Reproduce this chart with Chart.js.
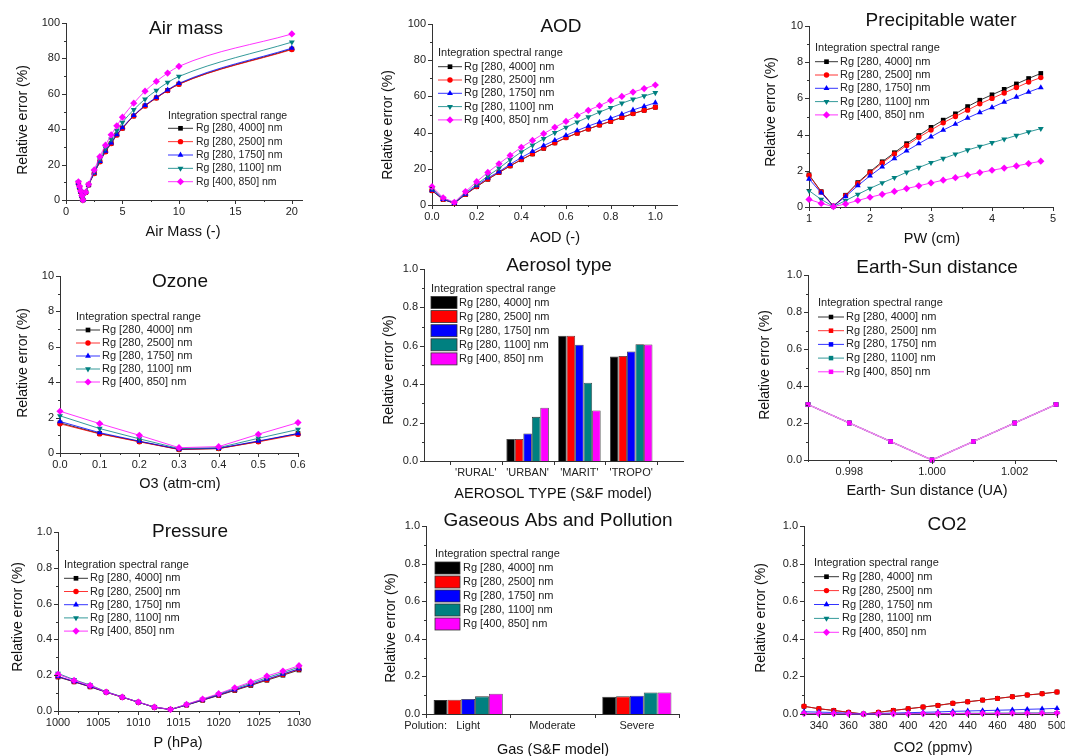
<!DOCTYPE html>
<html>
<head>
<meta charset="utf-8">
<script src="https://cdn.jsdelivr.net/npm/chart.js@4/dist/chart.umd.min.js"></script>
<style>
  html, body { margin: 0; padding: 0; background: #fff; }
  body { width: 1065px; height: 756px; position: relative; overflow: hidden; }
  canvas { position: absolute; }
</style>
</head>
<body>
<script>
// Series (integration spectral ranges)
const seriesNames = ['Rg [280, 4000] nm', 'Rg [280, 2500] nm', 'Rg [280, 1750] nm', 'Rg [280, 1100] nm', 'Rg [400, 850] nm'];

// Air mass
const airMassX = [1.1, 1.2, 1.3, 1.4, 1.5, 1.75, 2, 2.5, 3, 3.5, 4, 4.5, 5, 6, 7, 8, 9, 10, 20];
const airMassErr = [
  [9.5, 7.1, 4.7, 2.3, 0, 4.3, 8.5, 15.1, 21.7, 27.4, 32.0, 36.8, 40.6, 47.5, 53.2, 57.7, 61.9, 65.5, 85.3],
  [9.4, 7.0, 4.6, 2.3, 0, 4.3, 8.5, 15.0, 21.6, 27.3, 31.9, 36.7, 40.5, 47.4, 53.1, 57.6, 61.8, 65.4, 85.0],
  [9.6, 7.2, 4.8, 2.4, 0, 4.3, 8.6, 15.3, 21.9, 27.6, 32.3, 37.0, 40.9, 47.8, 53.5, 58.0, 62.2, 65.9, 85.8],
  [10.0, 7.5, 5.0, 2.5, 0, 4.4, 8.6, 16.0, 23.0, 29.2, 34.3, 39.2, 43.8, 51.0, 57.0, 61.9, 66.4, 69.8, 89.2],
  [10.3, 7.7, 5.1, 2.6, 0, 4.4, 8.9, 17.0, 24.5, 31.0, 36.8, 41.9, 46.8, 54.7, 61.5, 67.0, 71.7, 75.5, 93.8]
];

// AOD
const aodX = [0, 0.05, 0.1, 0.15, 0.2, 0.25, 0.3, 0.35, 0.4, 0.45, 0.5, 0.55, 0.6, 0.65, 0.7, 0.75, 0.8, 0.85, 0.9, 0.95, 1.0];
const aodErr = [
  [7.9, 3.0, 1.0, 5.8, 10.1, 14.2, 17.9, 21.6, 25.0, 28.2, 31.3, 34.3, 37.2, 39.7, 42.0, 44.2, 46.2, 48.3, 50.5, 52.3, 54.0],
  [8.0, 3.1, 1.0, 5.9, 10.2, 14.3, 18.0, 21.7, 25.1, 28.3, 31.4, 34.4, 37.2, 39.7, 42.0, 44.2, 46.3, 48.4, 50.5, 52.3, 54.0],
  [8.3, 3.2, 1.0, 6.1, 10.7, 15.0, 18.4, 22.5, 26.2, 29.6, 32.8, 35.7, 38.5, 41.1, 43.6, 45.8, 47.9, 50.2, 52.5, 54.5, 56.5],
  [9.2, 3.6, 1.2, 6.8, 11.4, 16.0, 20.3, 25.0, 29.3, 33.0, 36.6, 39.9, 42.9, 45.8, 48.6, 51.3, 53.8, 56.2, 58.4, 60.2, 62.0],
  [10.1, 4.0, 1.5, 7.4, 12.9, 18.0, 22.8, 27.4, 31.9, 35.7, 39.4, 42.9, 46.2, 49.4, 52.3, 54.9, 57.8, 60.0, 62.4, 64.3, 66.3]
];

// Precipitable water
const pwX = [1.0, 1.2, 1.4, 1.6, 1.8, 2.0, 2.2, 2.4, 2.6, 2.8, 3.0, 3.2, 3.4, 3.6, 3.8, 4.0, 4.2, 4.4, 4.6, 4.8];
const pwErr = [
  [1.78, 0.85, 0.05, 0.65, 1.35, 1.95, 2.50, 3.00, 3.50, 3.95, 4.40, 4.80, 5.15, 5.55, 5.90, 6.20, 6.50, 6.80, 7.10, 7.38],
  [1.75, 0.83, 0.05, 0.63, 1.30, 1.90, 2.43, 2.93, 3.40, 3.85, 4.25, 4.65, 5.00, 5.35, 5.70, 6.00, 6.30, 6.60, 6.90, 7.15],
  [1.55, 0.78, 0.05, 0.58, 1.18, 1.72, 2.22, 2.68, 3.10, 3.50, 3.88, 4.25, 4.58, 4.92, 5.22, 5.50, 5.80, 6.08, 6.35, 6.60],
  [0.90, 0.42, 0.03, 0.35, 0.70, 1.03, 1.33, 1.62, 1.92, 2.18, 2.45, 2.68, 2.92, 3.15, 3.35, 3.55, 3.75, 3.95, 4.15, 4.33],
  [0.42, 0.20, 0.02, 0.17, 0.36, 0.54, 0.70, 0.86, 1.02, 1.17, 1.33, 1.48, 1.62, 1.76, 1.90, 2.03, 2.15, 2.27, 2.40, 2.53]
];

// Ozone
const ozoneX = [0, 0.1, 0.2, 0.3, 0.4, 0.5, 0.6];
const ozoneErr = [
  [1.70, 1.10, 0.65, 0.20, 0.25, 0.65, 1.10],
  [1.65, 1.08, 0.63, 0.20, 0.25, 0.63, 1.05],
  [1.78, 1.15, 0.67, 0.22, 0.27, 0.68, 1.10],
  [2.10, 1.38, 0.80, 0.25, 0.30, 0.83, 1.33],
  [2.36, 1.66, 1.00, 0.30, 0.36, 1.06, 1.72]
];

// Aerosol type (S&F model)
const aerosolTypes = ["'RURAL'", "'URBAN'", "'MARIT'", "'TROPO'"];
const aerosolErr = [
  [null, 0.115, 0.652, 0.544],
  [null, 0.115, 0.652, 0.547],
  [null, 0.143, 0.606, 0.570],
  [null, 0.230, 0.408, 0.608],
  [null, 0.277, 0.263, 0.607]
];

// Earth-Sun distance
const esX = [0.997, 0.998, 0.999, 1.000, 1.001, 1.002, 1.003];
const esErr = [
  [0.3, 0.2, 0.1, 0, 0.1, 0.2, 0.3],
  [0.3, 0.2, 0.1, 0, 0.1, 0.2, 0.3],
  [0.3, 0.2, 0.1, 0, 0.1, 0.2, 0.3],
  [0.3, 0.2, 0.1, 0, 0.1, 0.2, 0.3],
  [0.3, 0.2, 0.1, 0, 0.1, 0.2, 0.3]
];

// Pressure
const pressureX = [1000, 1002, 1004, 1006, 1008, 1010, 1012, 1014, 1016, 1018, 1020, 1022, 1024, 1026, 1028, 1030];
const pressureErr = [
  [0.190, 0.163, 0.135, 0.105, 0.077, 0.049, 0.021, 0.008, 0.033, 0.060, 0.087, 0.115, 0.143, 0.172, 0.200, 0.229],
  [0.192, 0.164, 0.136, 0.106, 0.077, 0.049, 0.021, 0.008, 0.034, 0.061, 0.089, 0.117, 0.146, 0.175, 0.204, 0.233],
  [0.193, 0.165, 0.137, 0.106, 0.078, 0.049, 0.021, 0.008, 0.034, 0.062, 0.090, 0.119, 0.148, 0.178, 0.207, 0.236],
  [0.210, 0.175, 0.145, 0.108, 0.079, 0.050, 0.022, 0.009, 0.036, 0.065, 0.094, 0.125, 0.155, 0.186, 0.215, 0.245],
  [0.205, 0.171, 0.143, 0.106, 0.078, 0.050, 0.022, 0.009, 0.037, 0.067, 0.097, 0.130, 0.162, 0.195, 0.223, 0.253]
];

// Gaseous absorption and pollution
const pollutionLevels = ['Light', 'Moderate', 'Severe'];
const pollutionErr = [
  [0.074, null, 0.092],
  [0.076, null, 0.094],
  [0.080, null, 0.097],
  [0.094, null, 0.115],
  [0.108, null, 0.115]
];

// CO2
const co2X = [330, 340, 350, 360, 370, 380, 390, 400, 410, 420, 430, 440, 450, 460, 470, 480, 490, 500];
const co2Err = [
  [0.041, 0.028, 0.019, 0.009, 0, 0.009, 0.019, 0.028, 0.037, 0.046, 0.057, 0.065, 0.074, 0.083, 0.092, 0.101, 0.108, 0.117],
  [0.041, 0.028, 0.019, 0.009, 0, 0.009, 0.019, 0.028, 0.037, 0.046, 0.057, 0.065, 0.074, 0.083, 0.092, 0.101, 0.108, 0.117],
  [0.012, 0.010, 0.008, 0.004, 0, 0.003, 0.005, 0.007, 0.009, 0.011, 0.014, 0.016, 0.018, 0.020, 0.022, 0.025, 0.027, 0.030],
  [0.004, 0.003, 0.002, 0.001, 0, 0.001, 0.001, 0.002, 0.002, 0.003, 0.003, 0.004, 0.004, 0.005, 0.005, 0.006, 0.006, 0.007],
  [0.003, 0.002, 0.002, 0.001, 0, 0.001, 0.001, 0.001, 0.002, 0.002, 0.002, 0.003, 0.003, 0.003, 0.004, 0.004, 0.004, 0.005]
];

// Tick values
const airMassXTicks = [0, 5, 10, 15, 20];
const aodXTicks = [0, 0.2, 0.4, 0.6, 0.8, 1.0];
const pwXTicks = [1, 2, 3, 4, 5];
const ozoneXTicks = [0, 0.1, 0.2, 0.3, 0.4, 0.5, 0.6];
const esXTicks = [0.998, 1.000, 1.002];
const pressureXTicks = [1000, 1005, 1010, 1015, 1020, 1025, 1030];
const co2XTicks = [340, 360, 380, 400, 420, 440, 460, 480, 500];
const errTicks100 = [0, 20, 40, 60, 80, 100];
const errTicks10 = [0, 2, 4, 6, 8, 10];
const errTicks1 = [0, 0.2, 0.4, 0.6, 0.8, 1.0];

// ---- estilos ----
const FONT = 'Arial, "Liberation Sans", sans-serif';
const INK = '#222';
const AXIS = '#333';
const seriesColors = ['#000000', '#ff0000', '#0000ff', '#008080', '#ff00ff'];
const markerStyles = ['rect', 'circle', 'triangle', 'triangle', 'rectRot'];
const markerRotation = [0, 0, 0, 180, 0];
const markerRadius = [3.3, 2.7, 3.4, 3.4, 3.6];
const PAD = { left: 70, top: 30, right: 25, bottom: 50 };

function minorsOf(major, lo, hi) {
  const out = [];
  if (major.length < 2) return out;
  const step = major[1] - major[0], eps = step * 1e-6;
  for (let v = major[0] - step / 2; v <= hi + eps; v += step) {
    if (v >= lo - eps) out.push(v);
  }
  return out;
}

function drawMarker(ctx, style, rot, x, y, r) {
  ctx.beginPath();
  if (style === 'circle') {
    ctx.arc(x, y, r, 0, Math.PI * 2);
  } else if (style === 'rect') {
    const s = r * Math.SQRT1_2;
    ctx.rect(x - s, y - s, 2 * s, 2 * s);
  } else if (style === 'rectRot') {
    ctx.moveTo(x, y - r); ctx.lineTo(x + r, y); ctx.lineTo(x, y + r); ctx.lineTo(x - r, y);
    ctx.closePath();
  } else {
    let a = rot * Math.PI / 180;
    for (let k = 0; k < 3; k++) {
      const px = x + Math.sin(a) * r, py = y - Math.cos(a) * r;
      if (k) ctx.lineTo(px, py); else ctx.moveTo(px, py);
      a += 2 * Math.PI / 3;
    }
    ctx.closePath();
  }
  ctx.fill();
}

// Plugin: ticks, títulos y leyenda (coordenadas de página)
function decor(p) {
  return {
    id: 'decor',
    afterDraw(chart) {
      const { ctx, chartArea: a, scales } = chart;
      const X = v => v - p.box.L + a.left;
      const Y = v => v - p.box.T + a.top;
      const xs = scales.x, ys = scales.y;
      ctx.save();

      // marcas de los ejes
      const xMaj = p.xTickAt || xs.ticks.map(t => t.value);
      const xMin = p.xTickAt ? [] : minorsOf(xMaj, xs.min, xs.max);
      const yMaj = ys.ticks.map(t => t.value);
      const yMin = minorsOf(yMaj, ys.min, ys.max);
      ctx.strokeStyle = AXIS; ctx.lineWidth = 1;
      ctx.beginPath();
      const tickX = (v, len) => { const x = Math.round(xs.getPixelForValue(v)) + 0.5; ctx.moveTo(x, a.bottom); ctx.lineTo(x, a.bottom + len); };
      const tickY = (v, len) => { const y = Math.round(ys.getPixelForValue(v)) + 0.5; ctx.moveTo(a.left, y); ctx.lineTo(a.left - len, y); };
      xMaj.forEach(v => tickX(v, 4)); xMin.forEach(v => tickX(v, 2));
      yMaj.forEach(v => tickY(v, 4)); yMin.forEach(v => tickY(v, 2));
      ctx.stroke();

      // títulos
      ctx.fillStyle = '#111';
      ctx.textAlign = 'center'; ctx.textBaseline = 'alphabetic';
      ctx.font = `19px ${FONT}`;
      ctx.fillText(p.title.text, X(p.title.x), Y(p.title.y));
      ctx.font = `14.5px ${FONT}`;
      ctx.fillText(p.xTitle.text, X(p.xTitle.x), Y(p.xTitle.y));
      ctx.save();
      ctx.translate(X(p.yTitle.x), Y(p.yTitle.y));
      ctx.rotate(-Math.PI / 2);
      ctx.textBaseline = 'middle';
      ctx.font = `14px ${FONT}`;
      ctx.fillText('Relative error (%)', 0, 0);
      ctx.restore();

      (p.extra || []).forEach(t => {
        ctx.font = `11px ${FONT}`; ctx.fillStyle = INK;
        ctx.textAlign = t.align; ctx.textBaseline = 'middle';
        ctx.fillText(t.text, X(t.x), Y(t.y));
      });

      // leyenda
      const lg = p.legend;
      ctx.textAlign = 'left'; ctx.textBaseline = 'middle';
      ctx.font = `${lg.size}px ${FONT}`; ctx.fillStyle = INK;
      ctx.fillText('Integration spectral range', X(lg.x), Y(lg.head));
      seriesNames.forEach((name, i) => {
        const y = Y(lg.row0 + i * lg.step), x0 = X(lg.x);
        if (p.bars) {
          ctx.fillStyle = seriesColors[i];
          ctx.fillRect(x0, y - 6, lg.len, 12);
          ctx.strokeStyle = AXIS; ctx.lineWidth = 0.8;
          ctx.strokeRect(x0, y - 6, lg.len, 12);
        } else {
          ctx.strokeStyle = seriesColors[i]; ctx.lineWidth = 0.8;
          ctx.beginPath(); ctx.moveTo(x0, y); ctx.lineTo(x0 + lg.len, y); ctx.stroke();
          ctx.fillStyle = seriesColors[i];
          if (p.allRect) drawMarker(ctx, 'rect', 0, x0 + lg.len / 2, y, 3.2);
          else drawMarker(ctx, markerStyles[i], markerRotation[i], x0 + lg.len / 2, y, markerRadius[i]);
        }
        ctx.fillStyle = INK;
        ctx.fillText(name, X(lg.textX), y);
      });
      ctx.restore();
    }
  };
}

function scaleOpts(s, isX) {
  const o = {
    type: s.type || 'linear',
    offset: !!s.offset,
    grid: { display: false, drawTicks: false },
    border: { display: true, color: AXIS, width: 1 },
    ticks: { padding: isX ? 5 : 6, color: INK, font: { family: FONT, size: 11 }, autoSkip: false, maxRotation: 0, minRotation: 0 },
    afterFit: isX ? (sc => { sc.height = PAD.bottom; }) : (sc => { sc.width = PAD.left; })
  };
  if (s.min !== undefined) o.min = s.min;
  if (s.max !== undefined) o.max = s.max;
  if (s.ticks) o.afterBuildTicks = sc => { sc.ticks = s.ticks.map(v => ({ value: v })); };
  if (s.dec !== undefined) o.ticks.callback = v => Number(v).toFixed(s.dec);
  return o;
}

function makeCanvas(box) {
  const c = document.createElement('canvas');
  c.width = box.R - box.L + PAD.left + PAD.right;
  c.height = box.B - box.T + PAD.top + PAD.bottom;
  c.style.left = (box.L - PAD.left) + 'px';
  c.style.top = (box.T - PAD.top) + 'px';
  document.body.appendChild(c);
  return c;
}

function baseOptions(p) {
  return {
    responsive: false,
    animation: false,
    devicePixelRatio: 1,
    layout: { padding: { left: 0, top: PAD.top, right: PAD.right, bottom: 0 } },
    plugins: { legend: { display: false }, tooltip: { enabled: false }, title: { display: false } },
    scales: { x: scaleOpts(p.x, true), y: scaleOpts(p.y, false) }
  };
}

function linePanel(p) {
  const last = p.ys.length - 1;
  const datasets = p.ys.map((vals, i) => ({
    label: seriesNames[i],
    data: p.xs.map((x, k) => ({ x, y: vals[k] })),
    showLine: true,
    // en Earth-Sun todas las curvas coinciden: la de arriba se ve rosa claro
    borderColor: (p.allRect && i === last) ? '#f08cf0' : seriesColors[i],
    backgroundColor: seriesColors[i],
    borderWidth: (p.allRect && i === last) ? 1.6 : 0.8,
    pointStyle: p.allRect ? 'rect' : markerStyles[i],
    pointRotation: p.allRect ? 0 : markerRotation[i],
    pointRadius: p.allRect ? 3.2 : markerRadius[i],
    pointBorderWidth: 0,
    cubicInterpolationMode: p.smooth ? 'monotone' : 'default',
    order: last - i,
    clip: false
  }));
  return new Chart(makeCanvas(p.box), {
    type: 'scatter',
    data: { datasets },
    options: baseOptions(p),
    plugins: [decor(p)]
  });
}

function barPanel(p) {
  const datasets = p.ys.map((vals, i) => ({
    label: seriesNames[i],
    data: p.padEnds ? [null, ...vals, null] : vals,
    backgroundColor: seriesColors[i],
    borderColor: AXIS,
    borderWidth: 0.8,
    categoryPercentage: 0.82,
    barPercentage: 1.0
  }));
  return new Chart(makeCanvas(p.box), {
    type: 'bar',
    data: { labels: p.padEnds ? ['', ...p.labels, ''] : p.labels, datasets },
    options: baseOptions(p),
    plugins: [decor(p)]
  });
}

// ---- paneles ----
linePanel({
  box: { L: 66, T: 23, R: 302, B: 200 }, xs: airMassX, ys: airMassErr, smooth: true,
  x: { min: 0, max: 20.9, ticks: airMassXTicks, dec: 0 }, y: { min: 0, max: 100, ticks: errTicks100, dec: 0 },
  title: { text: 'Air mass', x: 186, y: 34 }, xTitle: { text: 'Air Mass (-)', x: 183, y: 236 }, yTitle: { x: 23, y: 120 },
  legend: { x: 168, head: 116, row0: 128.3, step: 13.35, len: 25, textX: 196, size: 10.5 }
});

linePanel({
  box: { L: 432, T: 24, R: 677, B: 205 }, xs: aodX, ys: aodErr,
  x: { min: 0, max: 1.097, ticks: aodXTicks, dec: 1 }, y: { min: 0, max: 100, ticks: errTicks100, dec: 0 },
  title: { text: 'AOD', x: 561, y: 32 }, xTitle: { text: 'AOD (-)', x: 555, y: 242 }, yTitle: { x: 388, y: 125 },
  legend: { x: 438, head: 53, row0: 66.7, step: 13.3, len: 24, textX: 464, size: 11 }
});

linePanel({
  box: { L: 809, T: 26, R: 1053, B: 207 }, xs: pwX, ys: pwErr,
  x: { min: 1, max: 5, ticks: pwXTicks, dec: 0 }, y: { min: 0, max: 10, ticks: errTicks10, dec: 0 },
  title: { text: 'Precipitable water', x: 941, y: 26 }, xTitle: { text: 'PW (cm)', x: 932, y: 243 }, yTitle: { x: 771, y: 112 },
  legend: { x: 815, head: 48, row0: 61.7, step: 13.3, len: 23, textX: 840, size: 11 }
});

linePanel({
  box: { L: 60, T: 276, R: 298, B: 453 }, xs: ozoneX, ys: ozoneErr,
  x: { min: 0, max: 0.6, ticks: ozoneXTicks, dec: 1 }, y: { min: 0, max: 10, ticks: errTicks10, dec: 0 },
  title: { text: 'Ozone', x: 180, y: 287 }, xTitle: { text: 'O3 (atm-cm)', x: 180, y: 488 }, yTitle: { x: 23, y: 363 },
  legend: { x: 76, head: 317, row0: 330, step: 13, len: 24, textX: 102, size: 11 }
});

barPanel({
  box: { L: 424, T: 269, R: 683, B: 461 }, labels: aerosolTypes, ys: aerosolErr, padEnds: true, bars: true,
  xTickAt: [0.5, 1.5, 2.5, 3.5, 4.5],
  x: { type: 'category', offset: false }, y: { min: 0, max: 1, ticks: errTicks1, dec: 1 },
  title: { text: 'Aerosol type', x: 559, y: 271 }, xTitle: { text: 'AEROSOL TYPE (S&F model)', x: 553, y: 498 }, yTitle: { x: 389, y: 370 },
  legend: { x: 431, head: 289, row0: 302.5, step: 14.1, len: 26, textX: 459, size: 11 }
});

linePanel({
  box: { L: 808, T: 275, R: 1056, B: 460 }, xs: esX, ys: esErr, allRect: true,
  x: { min: 0.997, max: 1.003, ticks: esXTicks, dec: 3 }, y: { min: 0, max: 1, ticks: errTicks1, dec: 1 },
  title: { text: 'Earth-Sun distance', x: 937, y: 273 }, xTitle: { text: 'Earth- Sun distance (UA)', x: 927, y: 495 }, yTitle: { x: 765, y: 365 },
  legend: { x: 818, head: 303, row0: 317, step: 13.7, len: 26, textX: 846, size: 11 }
});

linePanel({
  box: { L: 58, T: 532, R: 299, B: 711 }, xs: pressureX, ys: pressureErr,
  x: { min: 1000, max: 1030, ticks: pressureXTicks, dec: 0 }, y: { min: 0, max: 1, ticks: errTicks1, dec: 1 },
  title: { text: 'Pressure', x: 190, y: 537 }, xTitle: { text: 'P (hPa)', x: 178, y: 747 }, yTitle: { x: 18, y: 617 },
  legend: { x: 64, head: 565, row0: 578.3, step: 13.2, len: 24, textX: 90, size: 11 }
});

barPanel({
  box: { L: 426, T: 526, R: 679, B: 714 }, labels: pollutionLevels, ys: pollutionErr, bars: true,
  xTickAt: [-0.5, 0.5, 1.5, 2.5],
  x: { type: 'category', offset: true }, y: { min: 0, max: 1, ticks: errTicks1, dec: 1 },
  title: { text: 'Gaseous Abs and Pollution', x: 558, y: 526 }, xTitle: { text: 'Gas (S&F model)', x: 553, y: 754 }, yTitle: { x: 391, y: 628 },
  extra: [{ text: 'Polution:', x: 447, y: 726, align: 'right' }],
  legend: { x: 435, head: 554, row0: 568, step: 14, len: 25, textX: 463, size: 11 }
});

linePanel({
  box: { L: 804, T: 526, R: 1057, B: 714 }, xs: co2X, ys: co2Err,
  x: { min: 330, max: 500, ticks: co2XTicks, dec: 0 }, y: { min: 0, max: 1, ticks: errTicks1, dec: 1 },
  title: { text: 'CO2', x: 947, y: 530 }, xTitle: { text: 'CO2 (ppmv)', x: 933, y: 752 }, yTitle: { x: 761, y: 618 },
  legend: { x: 814, head: 563, row0: 576.7, step: 13.9, len: 25, textX: 842, size: 11 }
});
</script>
</body>
</html>
